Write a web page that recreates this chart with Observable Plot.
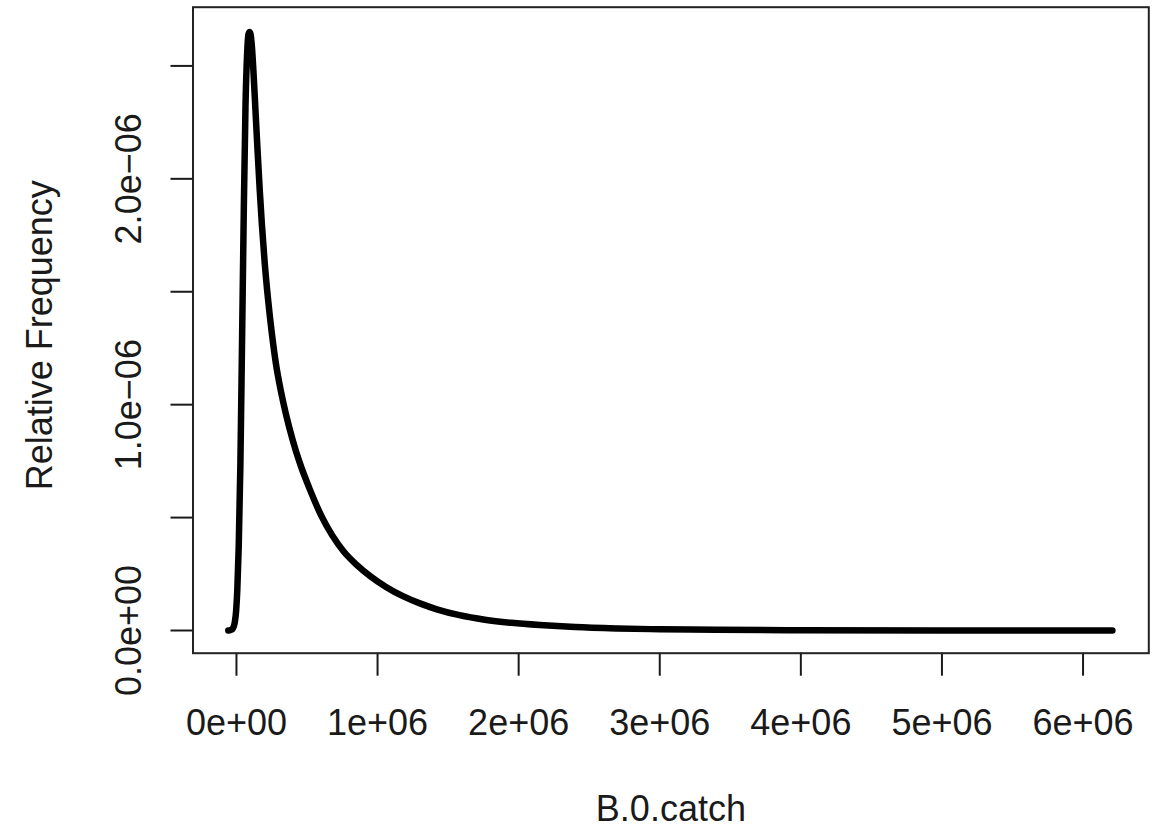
<!DOCTYPE html>
<html>
<head>
<meta charset="utf-8">
<script src="https://cdn.jsdelivr.net/npm/d3@7"></script>
<script src="https://cdn.jsdelivr.net/npm/@observablehq/plot@0.6"></script>
<style>
  html, body { margin: 0; padding: 0; background: #ffffff; }
  #chart svg { display: block; }
</style>
</head>
<body>
<div id="chart"></div>
<script>
// Curve values (x: B.0.catch, y: relative frequency)
const bCatch = [
  -58000, -40000, -25000, -12000, -2000, 6000, 16000, 28000, 40000, 52000, 64000,
  76000, 85000, 93000, 100000, 110000, 120000, 135000, 150000, 165000, 180000,
  200000, 225000, 250000, 280000, 315000, 350000, 400000, 450000, 520000, 600000,
  680000, 760000, 850000, 950000, 1060000, 1180000, 1300000, 1420000, 1580000,
  1760000, 1950000, 2150000, 2400000, 2700000, 3000000, 3400000, 4000000,
  5000000, 6208000
];
const relFreq = [
  0.000e-6, 0.002e-6, 0.010e-6, 0.035e-6, 0.090e-6, 0.180e-6, 0.370e-6, 0.740e-6, 1.300e-6, 1.860e-6, 2.320e-6,
  2.560e-6, 2.640e-6, 2.650e-6, 2.640e-6, 2.580e-6, 2.480e-6, 2.300e-6, 2.120e-6, 1.950e-6, 1.800e-6,
  1.630e-6, 1.460e-6, 1.320e-6, 1.180e-6, 1.060e-6, 0.960e-6, 0.840e-6, 0.740e-6, 0.625e-6, 0.510e-6,
  0.420e-6, 0.350e-6, 0.292e-6, 0.240e-6, 0.193e-6, 0.152e-6, 0.120e-6, 0.094e-6, 0.068e-6,
  0.048e-6, 0.034e-6, 0.024e-6, 0.015e-6, 0.009e-6, 0.0055e-6, 0.003e-6, 0.0012e-6,
  0.0003e-6, 0.000e-6
];

const xTickValues = [0, 1e6, 2e6, 3e6, 4e6, 5e6, 6e6];
const xTickLabels = ["0e+00", "1e+06", "2e+06", "3e+06", "4e+06", "5e+06", "6e+06"];
const yTickValues = [0, 0.5e-6, 1.0e-6, 1.5e-6, 2.0e-6, 2.5e-6];
const yLabelValues = [0, 1.0e-6, 2.0e-6];
const yTickLabels = ["0.0e+00", "1.0e\u221206", "2.0e\u221206"];

const xTitle = "B.0.catch";
const yTitle = "Relative Frequency";

const curve = bCatch.map((x, i) => ({x, y: relFreq[i]}));

const xLabelFor = (d) => {
  const i = xTickValues.indexOf(d);
  return i >= 0 ? xTickLabels[i] : "";
};
const yLabelFor = (d) => {
  const i = yLabelValues.findIndex(v => Math.abs(v - d) < 1e-12);
  return i >= 0 ? yTickLabels[i] : "";
};

const chart = Plot.plot({
  width: 1159,
  height: 829,
  marginLeft: 192.5,
  marginRight: 10.7,
  marginTop: 6.7,
  marginBottom: 176.3,
  x: {domain: [-0.308e6, 6.466e6]},
  y: {domain: [-0.1005e-6, 2.760e-6]},
  style: {
    fontFamily: "'Liberation Sans', Arial, Helvetica, sans-serif",
    fontSize: "36px",
    color: "#1a1a1a",
    background: "#ffffff"
  },
  marks: [
    Plot.axisX({
      ticks: xTickValues,
      tickFormat: xLabelFor,
      tickSize: 23,
      tickPadding: 33.4,
      strokeWidth: 2,
      fontSize: 36,
      label: null
    }),
    Plot.axisY({
      ticks: yTickValues,
      tickFormat: yLabelFor,
      tickSize: 22,
      tickPadding: 30.5,
      tickRotate: -90,
      strokeWidth: 2,
      fontSize: 36,
      label: null
    }),
    Plot.frame({stroke: "#222", strokeWidth: 2}),
    Plot.line(curve, {
      x: "x",
      y: "y",
      stroke: "#000",
      strokeWidth: 6.5,
      curve: "monotone-x",
      strokeLinecap: "round",
      strokeLinejoin: "round"
    }),
    Plot.text([xTitle], {
      text: d => d,
      frameAnchor: "bottom",
      textAnchor: "middle",
      lineAnchor: "bottom",
      dy: 168,
      fontSize: 36,
      fill: "#1a1a1a"
    }),
    Plot.text([yTitle], {
      text: d => d,
      frameAnchor: "left",
      textAnchor: "middle",
      lineAnchor: "bottom",
      rotate: -90,
      dx: -140.8,
      dy: 5,
      fontSize: 36,
      fill: "#1a1a1a"
    })
  ]
});

document.getElementById("chart").appendChild(chart);
</script>
</body>
</html>
